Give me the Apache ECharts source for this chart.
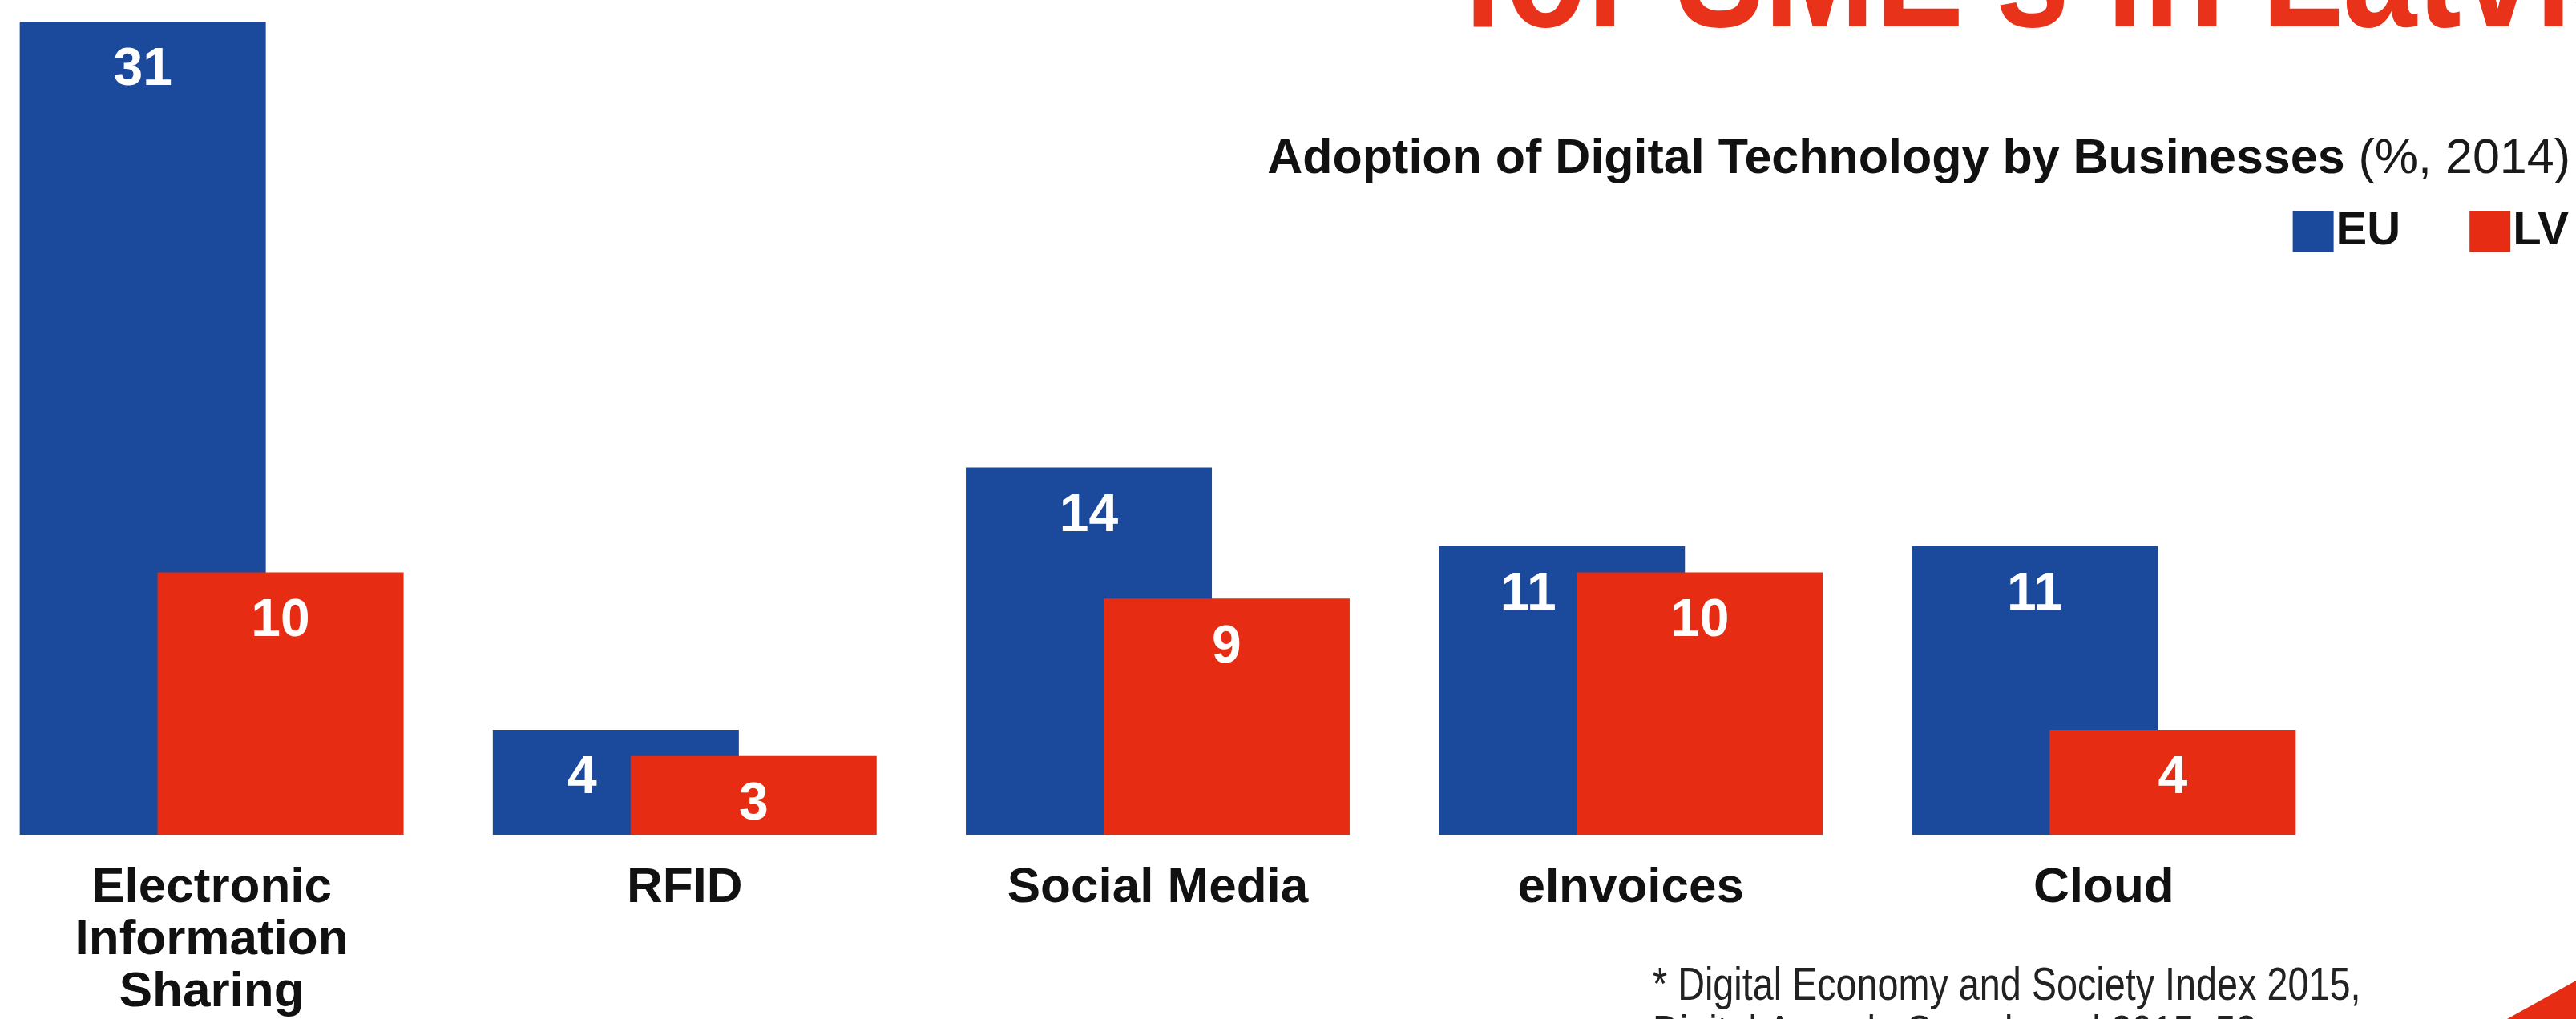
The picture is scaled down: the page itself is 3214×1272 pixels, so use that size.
<!DOCTYPE html>
<html>
<head>
<meta charset="utf-8">
<script src="https://cdn.jsdelivr.net/npm/echarts@6/dist/echarts.min.js"></script>
<style>
  html, body { margin: 0; padding: 0; background: #ffffff; }
  #chart { width: 3214px; height: 1272px; }
</style>
</head>
<body>
<div id="chart"></div>
<script>
// ---- data ----
const categories = ['Electronic\nInformation\nSharing', 'RFID', 'Social Media', 'eInvoices', 'Cloud'];
const seriesNames = ['EU', 'LV'];
const euValues = [31, 4, 14, 11, 11];
const lvValues = [10, 3, 9, 10, 4];
const subtitleBold = 'Adoption of Digital Technology by Businesses';
const subtitleNormal = ' (%, 2014)';
const headline = "for SME's in Latvia";
const footnote = '* Digital Economy and Society Index 2015,\nDigital Agenda Scoreboard 2015, 53';

const BLUE = '#1b499b';
const RED = '#e62d14';
const SANS = "'Liberation Sans', Arial, sans-serif";

const chart = echarts.init(document.getElementById('chart'), null, { renderer: 'canvas' });

// EU labels shift left when the overlapping LV bar reaches the label area
const euData = euValues.map((v, i) => {
  const covered = lvValues[i] >= v - 3;
  return covered ? { value: v, label: { offset: [-42, 0] } } : v;
});

const valueLabel = {
  show: true,
  position: 'insideTop',
  distance: 28,
  color: '#ffffff',
  fontFamily: SANS,
  fontWeight: 'bold',
  fontSize: 66,
  lineHeight: 66
};

const option = {
  animation: false,
  backgroundColor: '#ffffff',
  title: {
    right: 7,
    top: 169,
    padding: 0,
    text: '{b|' + subtitleBold + '}{r|' + subtitleNormal + '}',
    textStyle: {
      rich: {
        b: { fontFamily: SANS, fontWeight: 'bold', fontSize: 61, lineHeight: 61, color: '#111111' },
        r: { fontFamily: SANS, fontWeight: 'normal', fontSize: 61, lineHeight: 61, color: '#1a1a1a' }
      }
    }
  },
  legend: {
    data: seriesNames,
    right: 9,
    top: 260,
    padding: 0,
    icon: 'rect',
    itemWidth: 51,
    itemHeight: 51,
    itemGap: 86,
    textStyle: { fontFamily: SANS, fontWeight: 'bold', fontSize: 58, color: '#111111', padding: [0, 0, 0, -2] },
    selectedMode: false
  },
  grid: { left: -31, right: 294, top: 27, bottom: 230, containLabel: false, outerBoundsMode: 'none' },
  xAxis: {
    type: 'category',
    data: categories,
    axisLine: { show: false },
    axisTick: { show: false },
    axisLabel: {
      interval: 0,
      margin: 34,
      fontFamily: SANS,
      fontWeight: 'bold',
      fontSize: 62,
      lineHeight: 65,
      color: '#111111'
    }
  },
  yAxis: {
    type: 'value',
    min: 0,
    max: 31,
    show: false,
    splitLine: { show: false }
  },
  series: [
    {
      name: seriesNames[0],
      type: 'bar',
      data: euData,
      barWidth: 307,
      barGap: '-44%',
      itemStyle: { color: BLUE },
      label: valueLabel
    },
    {
      name: seriesNames[1],
      type: 'bar',
      data: lvValues,
      barWidth: 307,
      barGap: '-44%',
      itemStyle: { color: RED },
      label: valueLabel
    }
  ],
  graphic: [
    {
      type: 'text',
      x: 1823,
      y: -22,
      scaleX: 0.83,
      style: {
        text: headline,
        fill: '#e8321a',
        font: 'bold 200px ' + SANS,
        textAlign: 'left',
        verticalAlign: 'middle'
      }
    },
    {
      type: 'text',
      x: 2062,
      y: 1202,
      scaleX: 0.82,
      style: {
        text: footnote,
        fill: '#222222',
        font: '57px ' + SANS,
        lineHeight: 60,
        textAlign: 'left',
        verticalAlign: 'top'
      }
    },
    {
      type: 'polygon',
      shape: { points: [[3128, 1272], [3214, 1224], [3214, 1272]] },
      style: { fill: RED }
    }
  ]
};

chart.setOption(option);
</script>
</body>
</html>
